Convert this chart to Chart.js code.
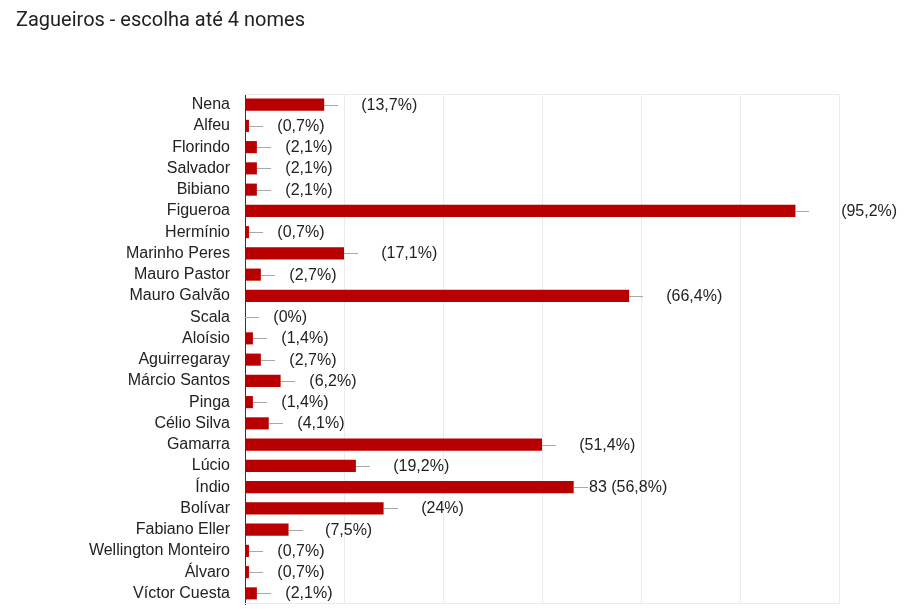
<!DOCTYPE html>
<html lang="pt">
<head>
<meta charset="utf-8">
<title>Zagueiros - escolha até 4 nomes</title>
<script src="https://cdn.jsdelivr.net/npm/chart.js@4/dist/chart.umd.min.js"></script>
<style>
  html, body { margin: 0; padding: 0; background: #fff; }
  #wrap { position: relative; width: 907px; height: 609px; }
  #title {
    position: absolute; left: 16px; top: 7px;
    font-family: Roboto, "Noto Sans", sans-serif; font-size: 20px;
    color: #202124; white-space: nowrap;
  }
  #chart { position: absolute; left: 0; top: 0; }
</style>
</head>
<body>
<div id="wrap">
  <canvas id="chart" width="907" height="609"></canvas>
  <div id="title">Zagueiros - escolha até 4 nomes</div>
</div>
<script>
// Data (146 respostas)
const names = [
  'Nena', 'Alfeu', 'Florindo', 'Salvador', 'Bibiano', 'Figueroa', 'Hermínio',
  'Marinho Peres', 'Mauro Pastor', 'Mauro Galvão', 'Scala', 'Aloísio',
  'Aguirregaray', 'Márcio Santos', 'Pinga', 'Célio Silva', 'Gamarra', 'Lúcio',
  'Índio', 'Bolívar', 'Fabiano Eller', 'Wellington Monteiro', 'Álvaro', 'Víctor Cuesta'
];
const counts = [20, 1, 3, 3, 3, 139, 1, 25, 4, 97, 0, 2, 4, 9, 2, 6, 75, 28, 83, 35, 11, 1, 1, 3];
const percentLabels = [
  '(13,7%)', '(0,7%)', '(2,1%)', '(2,1%)', '(2,1%)', '(95,2%)', '(0,7%)',
  '(17,1%)', '(2,7%)', '(66,4%)', '(0%)', '(1,4%)', '(2,7%)', '(6,2%)',
  '(1,4%)', '(4,1%)', '(51,4%)', '(19,2%)', '(56,8%)', '(24%)', '(7,5%)',
  '(0,7%)', '(0,7%)', '(2,1%)'
];
// only this bar shows its count in the picture
const countShownFor = ['Índio'];
const xTicks = [0, 25, 50, 75, 100, 125, 150];

const labelFont = '16px "Liberation Sans", Arial, sans-serif';

// stem + "count (pct%)" annotation after each bar
const annotations = {
  id: 'annotations',
  afterDatasetsDraw(chart) {
    const ctx = chart.ctx;
    const meta = chart.getDatasetMeta(0);
    ctx.save();
    ctx.font = labelFont;
    ctx.textBaseline = 'middle';
    meta.data.forEach((bar, i) => {
      const x = Math.round(bar.x);
      const y = Math.round(bar.y) + 0.5;
      ctx.strokeStyle = '#a8a8a8';
      ctx.lineWidth = 1;
      ctx.beginPath();
      ctx.moveTo(x, y);
      ctx.lineTo(x + 14, y);
      ctx.stroke();
      const countText = counts[i] + ' ';
      let tx = x + 15;
      if (countShownFor.includes(names[i])) {
        ctx.fillStyle = '#222';
        ctx.fillText(countText, tx, y);
      }
      tx += ctx.measureText(countText).width;
      ctx.fillStyle = '#222';
      ctx.fillText(percentLabels[i], tx, y);
    });
    ctx.restore();
  }
};

// light frame lines at top and bottom of the plot area
const frame = {
  id: 'frame',
  beforeDatasetsDraw(chart) {
    const { ctx, chartArea } = chart;
    ctx.save();
    ctx.strokeStyle = '#ebebeb';
    ctx.lineWidth = 1;
    ctx.beginPath();
    ctx.moveTo(chartArea.left, chartArea.top + 0.5);
    ctx.lineTo(chartArea.right, chartArea.top + 0.5);
    ctx.moveTo(chartArea.left, chartArea.bottom - 0.5);
    ctx.lineTo(chartArea.right, chartArea.bottom - 0.5);
    ctx.stroke();
    ctx.restore();
  }
};

new Chart(document.getElementById('chart'), {
  type: 'bar',
  data: {
    labels: names,
    datasets: [{
      data: counts,
      backgroundColor: '#b90000',
      borderWidth: 0,
      barPercentage: 0.57,
      categoryPercentage: 1
    }]
  },
  options: {
    indexAxis: 'y',
    responsive: false,
    animation: false,
    layout: { padding: { top: 94, right: 68, bottom: 5, left: 0 } },
    plugins: {
      legend: { display: false },
      tooltip: { enabled: false }
    },
    scales: {
      x: {
        min: xTicks[0],
        max: xTicks[xTicks.length - 1],
        afterBuildTicks: (scale) => { scale.ticks = xTicks.map(v => ({ value: v })); },
        ticks: { display: false },
        grid: { color: '#ebebeb', drawTicks: false },
        border: { display: false },
        afterFit: (scale) => { scale.height = 0; }
      },
      y: {
        ticks: {
          color: '#222',
          font: { family: '"Liberation Sans", Arial, sans-serif', size: 16 },
          padding: 15,
          autoSkip: false
        },
        grid: { display: false, drawTicks: false },
        border: { display: true, color: '#333', width: 1 },
        afterFit: (scale) => {
          scale.width = 245;
          scale.paddingTop = 0;
          scale.paddingBottom = 0;
        }
      }
    }
  },
  plugins: [frame, annotations]
});
</script>
</body>
</html>
